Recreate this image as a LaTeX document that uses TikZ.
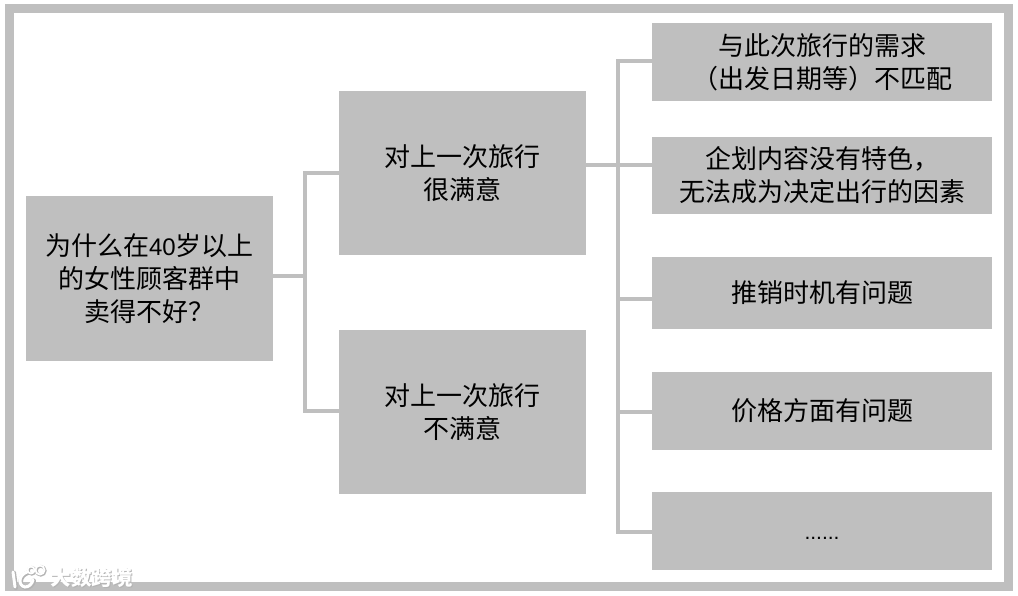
\documentclass[tikz,border=0pt]{standalone}
\usepackage{fontspec}
\setmainfont{Liberation Sans}
\newfontfamily\cjk{Noto Sans CJK SC}
\definecolor{boxgray}{HTML}{BFBFBF}
\definecolor{wmshade}{HTML}{B4B4B4}
\tikzset{
  box/.style={fill=boxgray,draw=none,inner sep=0pt,align=center,text=black,
    font=\cjk\fontsize{26}{33}\selectfont},
  leftbox/.style={box,minimum width=247pt,minimum height=164pt},
  rightbox/.style={box,minimum width=340pt},
  link/.style={draw=boxgray,line width=4pt,line join=miter},
  frame/.style={draw=boxgray,line width=9pt},
  wmtext/.style={inner sep=0pt,font=\cjk\bfseries\fontsize{20.5}{20}\selectfont},
  wmlogo/.style={line cap=round},
}
\begin{document}
\begin{tikzpicture}[x=1pt,y=-1pt]
\useasboundingbox (0,0) rectangle (1018,596);
\fill[white] (0,0) rectangle (1018,596);
\coordinate (fa) at (9,8.5);
\coordinate (fb) at (1008.5,586.5);
\draw[frame] (fa) rectangle (fb);
% boxes
\node[leftbox] (root) at (149.5,278.5) {为什么在{\fontspec{Liberation Sans}\fontsize{24}{33}\selectfont 40}岁以上\\的女性顾客群中\\卖得不好？};
\node[leftbox] (m1) at (462.5,173) {对上一次旅行\\很满意};
\node[leftbox] (m2) at (462.5,412) {对上一次旅行\\不满意};
\node[rightbox,minimum height=78pt] (r1) at (822,62) {与此次旅行的需求\\（出发日期等）不匹配};
\node[rightbox,minimum height=77pt] (r2) at (822,175.5) {企划内容没有特色，\\无法成为决定出行的因素};
\node[rightbox,minimum height=72pt] (r3) at (822,293) {推销时机有问题};
\node[rightbox,minimum height=78pt] (r4) at (822,411) {价格方面有问题};
\node[rightbox,minimum height=78pt] (r5) at (822,531) {};
\node[inner sep=0pt,font=\fontspec{Liberation Sans}\fontsize{21}{24}\selectfont] (r5dots) at (822,538) {......};
% connector routing points
\coordinate (tL) at (305,276);
\coordinate (tLa) at (305,173);
\coordinate (tLb) at (305,411);
\coordinate (tR) at (618,165);
\coordinate (tR1) at (618,61.5);
\coordinate (tR3) at (618,299);
\coordinate (tR4) at (618,412);
\coordinate (tR5) at (618,532);
% connectors
\draw[link] (root.east |- tL) -- (tL);
\draw[link] (m1.west |- tLa) -- (tLa) -- (tLb) -- (m2.west |- tLb);
\draw[link] (m1.east |- tR) -- (r2.west |- tR);
\draw[link] (r1.west |- tR1) -- (tR1) -- (tR5) -- (r5.west |- tR5);
\draw[link] (tR3) -- (r3.west |- tR3);
\draw[link] (tR4) -- (r4.west |- tR4);
% watermark
\foreach \c/\o/\w in {wmshade/0.8/4.5, white/0/3}{
\begin{scope}[wmlogo,xshift=\o pt,yshift=-\o pt]
\draw[draw=\c,line width=\w pt] (13,572) -- (15,587);
\draw[draw=\c,line width=\w pt] (27,572) .. controls (18,575) and (18,586) .. (25,587) .. controls (29,587) and (32,584) .. (33,580);
\draw[draw=\c,line width=\w pt*0.6] (31,570) circle (3.5pt);
\draw[draw=\c,line width=\w pt*0.6] (40,570) circle (4.5pt);
\end{scope}
}
\node[wmtext,text=wmshade] (wmb) at (92.5,579) {大数跨境};
\node[wmtext,text=white] (wm) at (91.5,578) {大数跨境};
\end{tikzpicture}
\end{document}
